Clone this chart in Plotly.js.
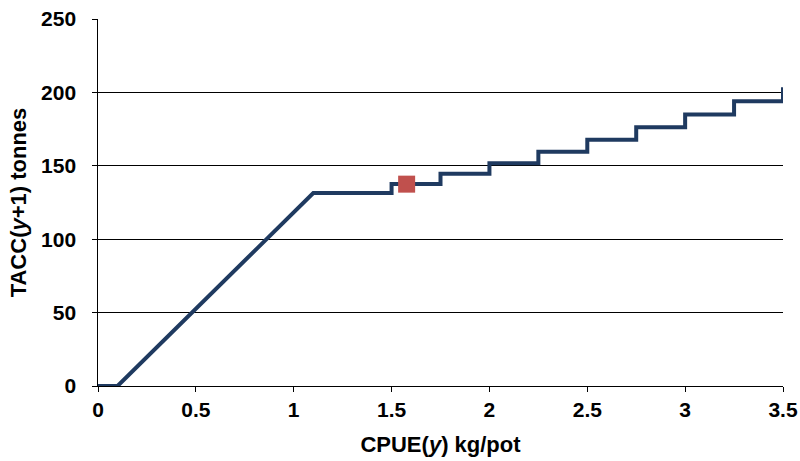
<!DOCTYPE html>
<html>
<head>
<meta charset="utf-8">
<script src="https://cdn.plot.ly/plotly-3.0.1.min.js"></script>
<style>html,body{margin:0;padding:0;background:#fff;}#chart{width:800px;height:461px;}</style>
</head>
<body>
<div id="chart"></div>
<script>
// Harvest control rule vertices: CPUE(y) kg/pot vs TACC(y+1) tonnes
const cpue = [0, 0.1, 1.1, 1.5, 1.5, 1.75, 1.75, 2.0, 2.0, 2.25, 2.25, 2.5, 2.5, 2.75, 2.75, 3.0, 3.0, 3.25, 3.25, 3.5, 3.5];
const tacc = [0, 0, 131.5, 131.5, 137.6, 137.6, 144.5, 144.5, 151.8, 151.8, 159.5, 159.5, 167.8, 167.8, 176.3, 176.3, 185, 185, 194, 194, 203.5];
// Current point
const currentCpue = [1.577];
const currentTacc = [137.5];
const xTicks = [0, 0.5, 1, 1.5, 2, 2.5, 3, 3.5];
const xTickText = ["0", "0.5", "1", "1.5", "2", "2.5", "3", "3.5"];
const yTicks = [0, 50, 100, 150, 200, 250];
const yTickText = ["0", "50", "100", "150", "200", "250"];

const fam = "Liberation Sans, Arial, sans-serif";
const bold = a => a.map(s => "<b>" + s + "</b>");
const pad = "<span style='color:rgba(0,0,0,0)'>0</span>";

const traces = [
  {x: cpue, y: tacc, mode: "lines", line: {color: "#1F3A60", width: 4}, hoverinfo: "skip", cliponaxis: false},
  {x: currentCpue, y: currentTacc, mode: "markers", marker: {symbol: "square", size: 17, color: "#C0504D"}, cliponaxis: false}
];

const layout = {
  width: 800, height: 461,
  margin: {l: 98, r: 17, t: 19, b: 75},
  showlegend: false,
  paper_bgcolor: "#fff", plot_bgcolor: "#fff",
  font: {family: fam, size: 21, color: "#000"},
  xaxis: {
    range: [0, 3.5], tickvals: xTicks, ticktext: bold(xTickText),
    showgrid: false, zeroline: false, showline: true, linecolor: "#000", linewidth: 1,
    ticks: "outside", ticklen: 5, tickcolor: "#000",
    tickfont: {family: fam, size: 21, color: "#000"},
    title: {text: "<b>CPUE(<i>y</i>) kg/pot</b>", font: {family: fam, size: 22, color: "#000"}, standoff: 16}
  },
  yaxis: {
    range: [0, 250], tickvals: yTicks, ticktext: yTickText.map(s => "<b>" + s + "</b>" + pad),
    showgrid: true, gridcolor: "#000", gridwidth: 1, zeroline: false,
    showline: true, linecolor: "#000", linewidth: 1,
    ticks: "outside", ticklen: 5, tickcolor: "#000",
    tickfont: {family: fam, size: 21, color: "#000"},
    title: {text: "<b>TACC(<i>y</i>+1) tonnes</b>", font: {family: fam, size: 22, color: "#000"}, standoff: 8}
  }
};

Plotly.newPlot("chart", traces, layout, {displayModeBar: false, staticPlot: true});
</script>
</body>
</html>
